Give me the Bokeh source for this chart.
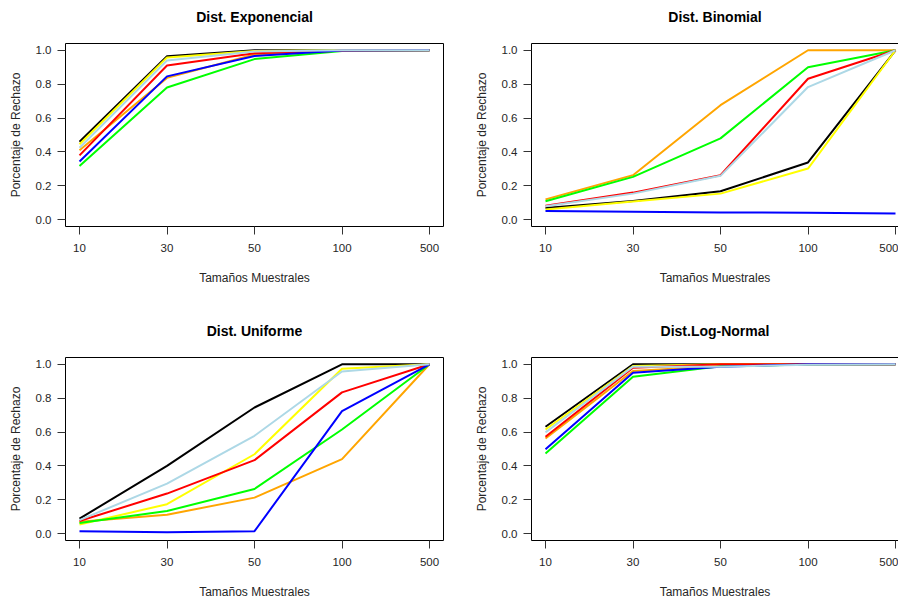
from bokeh.plotting import figure
from bokeh.layouts import column, row
from bokeh.models import FixedTicker, PrintfTickFormatter, ColumnDataSource, LinearAxis
from bokeh.embed import file_html
from bokeh.resources import INLINE

# ---------------- data ----------------
tamanos = ["10", "30", "50", "100", "500"]
y_ticks = [0.0, 0.2, 0.4, 0.6, 0.8, 1.0]

titulos = ["Dist. Exponencial", "Dist. Binomial", "Dist. Uniforme", "Dist.Log-Normal"]

# draw order: black, yellow, orange, green, red, blue, lightblue
colores = ["black", "yellow", "orange", "#00FF00", "red", "blue", "lightblue"]

# Dist. Exponencial
exp_negro = [0.46, 0.965, 1.0, 1.0, 1.0]
exp_amarillo = [0.445, 0.957, 0.996, 1.0, 1.0]
exp_naranja = [0.41, 0.837, 0.975, 1.0, 1.0]
exp_verde = [0.317, 0.78, 0.948, 0.996, 1.0]
exp_rojo = [0.38, 0.91, 0.982, 0.997, 1.0]
exp_azul = [0.344, 0.846, 0.966, 0.998, 1.0]
exp_celeste = [0.425, 0.94, 0.993, 1.0, 1.0]

# Dist. Binomial
bin_negro = [0.069, 0.11, 0.168, 0.338, 1.0]
bin_amarillo = [0.061, 0.107, 0.154, 0.302, 1.0]
bin_naranja = [0.12, 0.263, 0.676, 1.0, 1.0]
bin_verde = [0.109, 0.253, 0.48, 0.90, 1.0]
bin_rojo = [0.082, 0.16, 0.263, 0.832, 1.0]
bin_azul = [0.051, 0.047, 0.043, 0.041, 0.036]
bin_celeste = [0.079, 0.154, 0.259, 0.783, 1.0]

# Dist. Uniforme
uni_negro = [0.089, 0.40, 0.745, 1.0, 1.0]
uni_amarillo = [0.055, 0.174, 0.469, 0.974, 1.0]
uni_naranja = [0.07, 0.112, 0.213, 0.44, 1.0]
uni_verde = [0.063, 0.134, 0.264, 0.615, 1.0]
uni_rojo = [0.075, 0.237, 0.434, 0.834, 1.0]
uni_azul = [0.015, 0.009, 0.015, 0.724, 1.0]
uni_celeste = [0.08, 0.296, 0.578, 0.957, 1.0]

# Dist. Log-Normal
log_negro = [0.631, 1.0, 1.0, 1.0, 1.0]
log_amarillo = [0.615, 0.99, 1.0, 1.0, 1.0]
log_naranja = [0.562, 0.96, 0.99, 1.0, 1.0]
log_verde = [0.473, 0.927, 0.988, 0.998, 1.0]
log_rojo = [0.572, 0.98, 1.0, 1.0, 1.0]
log_azul = [0.499, 0.95, 0.985, 1.0, 1.0]
log_celeste = [0.598, 0.986, 0.986, 0.997, 1.0]

series = [
    [exp_negro, exp_amarillo, exp_naranja, exp_verde, exp_rojo, exp_azul, exp_celeste],
    [bin_negro, bin_amarillo, bin_naranja, bin_verde, bin_rojo, bin_azul, bin_celeste],
    [uni_negro, uni_amarillo, uni_naranja, uni_verde, uni_rojo, uni_azul, uni_celeste],
    [log_negro, log_amarillo, log_naranja, log_verde, log_rojo, log_azul, log_celeste],
]

FONT = "Liberation Sans"
TXT = "#262626"
x_pos = list(range(1, len(tamanos) + 1))
X0, X1 = 0.84, 5.16
Y0, Y1 = -0.04, 1.04


def panel(idx, right_side, height, top, bottom):
    if right_side:
        w, bl, br = 449, 82, 0
        x_end = X0 + 367 / 87.5
    else:
        w, bl, br = 449, 65, 6
        x_end = X1
    p = figure(width=w, height=height, x_range=(X0, x_end), y_range=(Y0, Y1),
               output_backend="svg", toolbar_location=None,
               min_border_left=bl, min_border_right=br,
               min_border_top=top, min_border_bottom=bottom)
    p.grid.visible = False
    p.background_fill_color = "white"
    p.border_fill_color = "white"
    if right_side:
        p.outline_line_color = None
    else:
        p.outline_line_color = "black"
        p.outline_line_width = 1
        p.outline_line_alpha = 1

    for vals, col in zip(series[idx], colores):
        src = ColumnDataSource(dict(x=x_pos, y=vals))
        p.line("x", "y", source=src, line_color=col, line_width=2)

    xa = p.below[0]
    xa.ticker = FixedTicker(ticks=x_pos)
    xa.major_label_overrides = {i: t for i, t in zip(x_pos, tamanos)}
    xa.minor_tick_line_color = None
    xa.major_tick_in = 0
    xa.major_tick_out = 8
    xa.major_label_standoff = 9
    xa.axis_label = "Tamaños Muestrales"
    xa.axis_label_standoff = 16

    ya = p.left[0]
    ya.ticker = FixedTicker(ticks=y_ticks)
    ya.formatter = PrintfTickFormatter(format="%.1f")
    ya.minor_tick_line_color = None
    ya.major_tick_in = 0
    ya.major_tick_out = 8
    ya.major_label_standoff = 6
    ya.major_label_orientation = "horizontal"
    ya.axis_label = "Porcentaje de Rechazo"
    ya.axis_label_standoff = 10

    for ax in (xa, ya):
        ax.axis_line_color = "black" if right_side else None
        ax.major_tick_line_color = "#333333"
        ax.major_label_text_font = FONT
        ax.major_label_text_font_size = "11.5px"
        ax.major_label_text_color = TXT
        ax.axis_label_text_font = FONT
        ax.axis_label_text_font_size = "12px"
        ax.axis_label_text_font_style = "normal"
        ax.axis_label_text_color = TXT

    # title drawn as the label of a tick-less axis above the box (also its top edge)
    ta = LinearAxis(ticker=FixedTicker(ticks=[]), axis_label=titulos[idx],
                    axis_label_standoff=19, major_tick_in=0, major_tick_out=0,
                    minor_tick_in=0, minor_tick_out=0, major_label_standoff=0,
                    axis_line_color="black" if right_side else None,
                    axis_label_text_font=FONT, axis_label_text_font_size="14px",
                    axis_label_text_font_style="bold", axis_label_text_color="black")
    if right_side:
        ta.bounds = (X0, X1)
    p.add_layout(ta, "above")
    return p


p1 = panel(0, False, 300, 43, 74)
p2 = panel(1, True, 300, 43, 74)
p3 = panel(2, False, 302, 57, 62)
p4 = panel(3, True, 302, 57, 62)

layout = column(row(p1, p2, spacing=0), row(p3, p4, spacing=0), spacing=0)

open("out.html", "w").write(file_html(layout, INLINE))
